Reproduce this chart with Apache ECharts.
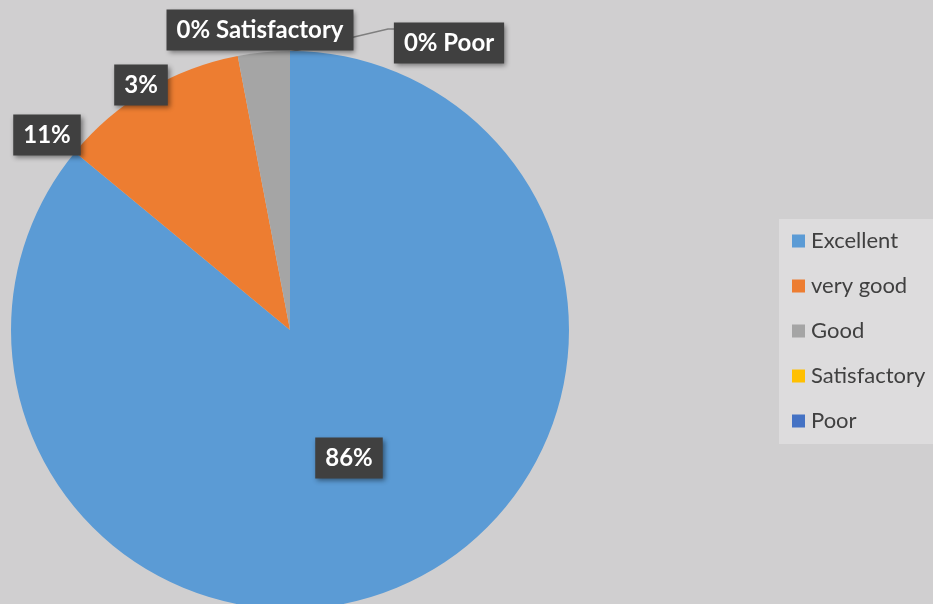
<!DOCTYPE html>
<html>
<head>
<meta charset="utf-8">
<script src="https://cdn.jsdelivr.net/npm/echarts@6/dist/echarts.min.js"></script>
<style>
  html, body { margin: 0; padding: 0; background: #d0cfd0; }
  #charts { width: 933px; height: 604px; }
</style>
</head>
<body>
<div id="charts"></div>
<script>
var categories = ['Excellent', 'very good', 'Good', 'Satisfactory', 'Poor'];
var values = [86, 11, 3, 0, 0];
var colors = ['#5b9bd5', '#ed7d31', '#a5a5a5', '#ffc000', '#4472c4'];
var labelTexts = ['86%', '11%', '3%', '0% Satisfactory', '0% Poor'];
// where each label box is centred
var labelSpots = [[349, 458], [47, 135], [141, 85], [260, 30], [449, 43]];

var chartDom = document.getElementById('charts');
var myChart = echarts.init(chartDom);

var pieData = categories.map(function (name, i) {
  var item = { name: name, value: values[i], itemStyle: { color: colors[i] } };
  if (i === 4) {
    item.labelLine = { show: true, lineStyle: { color: '#7f7f7f', width: 1.5 } };
  }
  return item;
});

var option = {
  backgroundColor: '#d0cfd0',
  animation: false,
  legend: {
    orient: 'vertical',
    left: 779,
    top: 219,
    backgroundColor: '#dddcdd',
    padding: [11, 12, 12, 13],
    itemWidth: 13,
    itemHeight: 13,
    itemGap: 23,
    icon: 'rect',
    selectedMode: false,
    data: categories,
    textStyle: {
      fontFamily: 'Lato',
      fontSize: 22,
      color: '#404040',
      padding: [0, 0, 0, 1]
    }
  },
  series: [
    {
      type: 'pie',
      center: [290, 330],
      radius: 279,
      startAngle: 90,
      clockwise: true,
      avoidLabelOverlap: false,
      minShowLabelAngle: 0,
      data: pieData,
      itemStyle: { borderWidth: 0 },
      emphasis: { disabled: true },
      label: {
        show: true,
        position: 'outside',
        formatter: function (p) { return labelTexts[p.dataIndex]; },
        fontFamily: 'Lato',
        fontWeight: 'bold',
        fontSize: 24,
        lineHeight: 24,
        color: '#ffffff',
        backgroundColor: '#404040',
        padding: [9, 10, 8, 10],
        shadowBlur: 5,
        shadowOffsetX: 2,
        shadowOffsetY: 2,
        shadowColor: 'rgba(0,0,0,0.45)'
      },
      labelLine: { show: false },
      labelLayout: function (params) {
        var spot = labelSpots[params.dataIndex];
        var out = { x: spot[0], y: spot[1], align: 'center', verticalAlign: 'middle' };
        if (params.dataIndex === 4) {
          out.labelLinePoints = [[290, 52], [388, 29], [396, 29]];
        }
        return out;
      }
    }
  ]
};
option && myChart.setOption(option);
</script>
</body>
</html>
